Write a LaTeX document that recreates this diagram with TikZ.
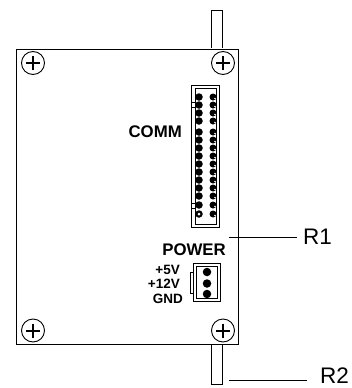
\documentclass[tikz,border=0pt]{standalone}
\usepackage{fontspec}
\setmainfont{Liberation Sans}
\usepackage{tikz}
\usetikzlibrary{calc}

\tikzset{
    outline/.style={draw=black, line width=0.9pt},
    thinline/.style={draw=black, line width=0.7pt},
    pin/.style={circle, fill=black, inner sep=0pt, minimum size=7.5pt},
    glint/.style={circle, fill=white, inner sep=0pt, minimum size=1.8pt},
    screw/.style={circle, draw=black, line width=0.9pt, fill=white, inner sep=0pt, minimum size=23pt},
    lbl/.style={font=\bfseries\fontsize{16.8}{18}\selectfont, inner sep=0pt},
    volt/.style={font=\bfseries\fontsize{13.5}{14}\selectfont, inner sep=0pt, anchor=east},
    callout/.style={font=\fontsize{22.5}{24}\selectfont, inner sep=0pt, anchor=west}
}

\begin{document}
\begin{tikzpicture}[x=1pt, y=-1pt]
        \useasboundingbox (0,0) rectangle (352,388);

        \coordinate (A) at (16.5,49);
        \coordinate (B) at (238,344);

        % posts
        \draw[thinline] (211.5,48) -- (211.5,10.5) -- (222.5,10.5) -- (222.5,48);
        \draw[thinline] (211.5,344) -- (211.5,384) -- (222.5,384) -- (222.5,344);

        \draw[outline] (A) rectangle (B);

        % screws
        \foreach \name/\x/\y in {tl/33/63, tr/223/63, bl/33/330.5, br/223/330.5} {
            \node[screw] (\name) at (\x,\y) {};
            \draw[line width=2pt] ($(\name)+(-7,0)$) -- ($(\name)+(7,0)$);
            \draw[line width=2pt] ($(\name)+(0,-7)$) -- ($(\name)+(0,7)$);
        }

        % comm connector
        \draw[thinline] (191.5,85) rectangle (219.5,227);
        \draw[thinline] (195,88) rectangle (216.5,224);
        \draw[thinline] (191.5,102) -- (195,102);
        \draw[thinline] (191.5,107) -- (195,107);
        \draw[thinline] (191.5,203) -- (195,203);
        \draw[thinline] (191.5,208) -- (195,208);
        \foreach \y in {97,105,113,121,132,140,148,156,164,172,180,188,196,205,214} {
            \node[pin] at (199,\y) {};
            \node[pin, minimum size=7pt] (pin\y) at (213,\y) {};
            \node[glint] at ($(pin\y)+(2,1.5)$) {};
        }
        \node[glint, minimum size=3pt] at (199,214) {};

        \node[lbl, anchor=east] (comm) at (182,132) {COMM};

        % power connector
        \node[lbl, anchor=east] (power) at (226,250) {POWER};
        \draw[thinline] (193,263.5) rectangle (220.5,301);
        \draw[thinline] (196.5,266.5) rectangle (217,298);
        \draw[thinline] (193,272) -- (190.5,272) -- (190.5,293) -- (193,293);
        \foreach \y in {272,283.5,294} {
            \node[pin, minimum size=8.5pt] at (207,\y) {};
        }
        \node[volt] (five) at (180,270) {+5V};
        \node[volt] (twelve) at (180,284) {+12V};
        \node[volt] (gnd) at (183,299) {GND};

        % callouts
        \node[callout] (Rone) at (303,237) {R1};
        \node[callout] (Rtwo) at (320,376) {R2};
        \coordinate (Rone start) at (229,237);
        \coordinate (Rone end) at (297,237);
        \coordinate (Rtwo start) at (229,380);
        \coordinate (Rtwo end) at (307,380);
        \draw[line width=1pt] (Rone start) -- (Rone end);
        \draw[line width=1pt] (Rtwo start) -- (Rtwo end);
    \end{tikzpicture}
\end{document}
